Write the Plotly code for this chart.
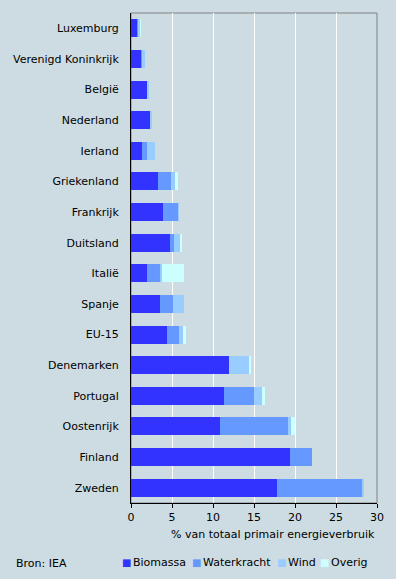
import plotly.graph_objects as go

countries = ["Luxemburg", "Verenigd Koninkrijk", "België", "Nederland", "Ierland",
             "Griekenland", "Frankrijk", "Duitsland", "Italië", "Spanje", "EU-15",
             "Denemarken", "Portugal", "Oostenrijk", "Finland", "Zweden"]
biomassa = [0.8, 1.27, 2.0, 2.35, 1.4, 3.25, 3.95, 4.7, 1.9, 3.5, 4.45, 11.95, 11.3, 10.8, 19.4, 17.8]
waterkracht = [0.1, 0.12, 0.0, 0.0, 0.5, 1.6, 1.85, 0.5, 1.75, 1.6, 1.45, 0.0, 3.65, 8.3, 2.7, 10.4]
wind = [0.2, 0.28, 0.08, 0.25, 1.0, 0.5, 0.05, 0.75, 0.1, 1.35, 0.5, 2.55, 1.0, 0.4, 0.0, 0.1]
overig = [0.1, 0.0, 0.0, 0.0, 0.0, 0.35, 0.0, 0.25, 2.75, 0.0, 0.35, 0.1, 0.35, 0.5, 0.0, 0.0]
series_names = ["Biomassa", "Waterkracht", "Wind", "Overig"]
colors = ["#3333ff", "#6699ff", "#99ccff", "#ccffff"]
x_ticks = [0, 5, 10, 15, 20, 25, 30]
x_title = "% van totaal primair energieverbruik"
source = "Bron: IEA"

FONT = "DejaVu Sans"
BG = "#cddce2"

fig = go.Figure()
for name, vals, col in zip(series_names, [biomassa, waterkracht, wind, overig], colors):
    fig.add_trace(go.Bar(y=countries, x=vals, name=name, orientation="h",
                         marker=dict(color=col, line=dict(width=0)), showlegend=False))

W, H = 396, 579
ml, mr, mt, mb = 131, 19, 13, 76
pw, ph = W - ml - mr, H - mt - mb

def px(x):
    return (x - ml) / pw

def py(y):
    return (H - mb - y) / ph

annotations = [
    dict(text=x_title, x=1.0, y=py(534), xref="paper", yref="paper", xanchor="right",
         yanchor="middle", showarrow=False, font=dict(family=FONT, size=11, color="#000000")),
    dict(text=source, x=px(14), y=py(563), xref="paper", yref="paper", xanchor="left",
         yanchor="middle", showarrow=False, font=dict(family=FONT, size=11, color="#000000")),
]
leg_x = [121, 191, 276, 319]
for name, col, lx in zip(series_names, colors, leg_x):
    annotations.append(dict(text=f"<span style='color:{col}'>■</span>", x=px(lx - 1), y=py(562),
                            xref="paper", yref="paper", xanchor="left", yanchor="middle",
                            showarrow=False, font=dict(family=FONT, size=10)))
    annotations.append(dict(text=name, x=px(lx + 10), y=py(562), xref="paper", yref="paper",
                            xanchor="left", yanchor="middle", showarrow=False,
                            font=dict(family=FONT, size=11, color="#000000")))

fig.update_layout(
    width=W, height=H, barmode="stack", bargap=0.41,
    paper_bgcolor=BG, plot_bgcolor=BG,
    margin=dict(l=ml, r=mr, t=mt, b=mb, pad=0),
    font=dict(family=FONT, size=11, color="#000000"),
    xaxis=dict(range=[0, 30], tickvals=x_ticks, ticks="outside", ticklen=4, tickcolor="#000000",
               showline=True, linecolor="#000000", linewidth=1, showgrid=True,
               gridcolor="#ffffff", gridwidth=1, zeroline=False, fixedrange=True,
               tickfont=dict(family=FONT, size=11)),
    yaxis=dict(categoryorder="array", categoryarray=countries, autorange="reversed",
               showline=True, linecolor="#000000", linewidth=1, showgrid=False, ticks="",
               ticklabelstandoff=9, tickfont=dict(family=FONT, size=11), fixedrange=True),
    shapes=[dict(type="rect", xref="paper", yref="paper", x0=0, x1=1, y0=0, y1=1,
                 line=dict(color="#808080", width=1), layer="below")],
    annotations=annotations,
)

fig.write_html("out.html", config={"displayModeBar": False},
               post_script="document.body.style.margin='0';document.body.style.overflow='hidden';")
